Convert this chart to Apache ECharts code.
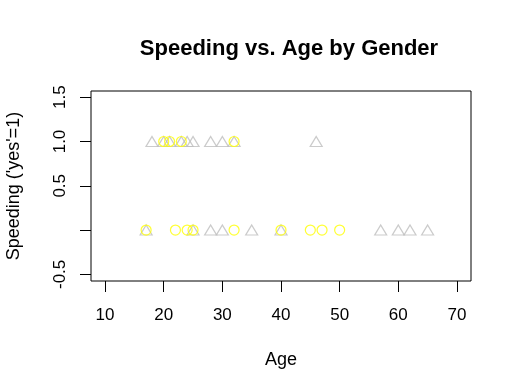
<!DOCTYPE html>
<html><head><meta charset="utf-8">
<script src="https://cdn.jsdelivr.net/npm/echarts@6/dist/echarts.min.js"></script>
<style>html,body{margin:0;padding:0;background:#fff}#c{width:512px;height:391px}</style>
</head><body><div id="c"></div>
<script>
var maleAge1 = [18, 20, 21, 23, 24, 25, 28, 30, 32, 46];
var femaleAge1 = [20, 21, 23, 32];
var maleAge0 = [17, 25, 28, 30, 35, 40, 57, 60, 62, 65];
var femaleAge0 = [17, 22, 24, 25, 32, 40, 45, 47, 50];
var xTicks = [10, 20, 30, 40, 50, 60, 70];
var yTicks = [-0.5, 0, 0.5, 1, 1.5];
var yTickLabels = ['-0.5', '', '0.5', '1.0', '1.5'];

function pts(ages, v) { return ages.map(function (a) { return [a, v]; }); }
var font = 'Liberation Sans, Arial, Helvetica, sans-serif';
var chart = echarts.init(document.getElementById('c'), null, {renderer: 'canvas'});
chart.setOption({
  animation: false,
  backgroundColor: '#fff',
  title: {
    text: 'Speeding vs. Age by Gender', left: 284, top: 33, textAlign: 'center',
    textStyle: {fontFamily: font, fontWeight: 'bold', fontSize: 22, color: '#000'}
  },
  grid: {left: 91, right: 41, top: 91, bottom: 110, containLabel: false, outerBoundsMode: 'none',
    show: true, borderColor: '#000', borderWidth: 1, backgroundColor: 'transparent'},
  xAxis: {
    type: 'value', min: 7.6, max: 72.4,
    axisLine: {show: false, onZero: false},
    splitLine: {show: false},
    axisTick: {show: true, inside: false, length: 11, customValues: xTicks, lineStyle: {color: '#000'}},
    axisLabel: {customValues: xTicks, color: '#000', fontFamily: font, fontSize: 17, margin: 26},
    name: 'Age', nameLocation: 'middle', nameGap: 70,
    nameTextStyle: {fontFamily: font, fontSize: 18, color: '#000'}
  },
  yAxis: {
    type: 'value', min: -0.575, max: 1.57,
    axisLine: {show: false, onZero: false},
    splitLine: {show: false},
    axisTick: {show: true, inside: false, length: 11, customValues: yTicks, lineStyle: {color: '#000'}},
    axisLabel: {
      customValues: yTicks, rotate: 90, color: '#000', fontFamily: font, fontSize: 17, margin: 22,
      formatter: function (v) {
        for (var i = 0; i < yTicks.length; i++) if (Math.abs(yTicks[i] - v) < 1e-9) return yTickLabels[i];
        return '';
      }
    },
    name: "Speeding ('yes'=1)", nameLocation: 'middle', nameGap: 68,
    nameTextStyle: {fontFamily: font, fontSize: 18, color: '#000'}
  },
  series: [
    {type: 'scatter', symbol: 'triangle', symbolSize: [12, 10], data: pts(maleAge1, 1).concat(pts(maleAge0, 0)),
      itemStyle: {color: 'rgba(0,0,0,0)', borderColor: '#bebebe', borderWidth: 1.2}},
    {type: 'scatter', symbol: 'circle', symbolSize: 10, data: pts(femaleAge1, 1).concat(pts(femaleAge0, 0)),
      itemStyle: {color: 'rgba(0,0,0,0)', borderColor: '#ffff00', borderWidth: 1.2}}
  ]
});
</script></body></html>
